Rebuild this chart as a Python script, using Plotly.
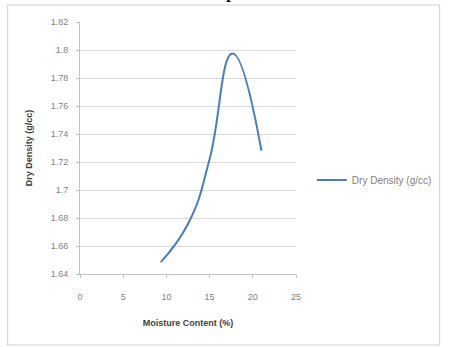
import plotly.graph_objects as go

moisture = [9.35, 12.6, 15.0, 17.65, 21.0]
dry_density = [1.6485, 1.677, 1.722, 1.7975, 1.728]
series_name = "Dry Density (g/cc)"
x_ticks = [0, 5, 10, 15, 20, 25]
y_ticks = [1.64, 1.66, 1.68, 1.70, 1.72, 1.74, 1.76, 1.78, 1.80, 1.82]
y_tick_text = ["1.64", "1.66", "1.68", "1.7", "1.72", "1.74", "1.76", "1.78", "1.8", "1.82"]

fig = go.Figure()
fig.add_trace(go.Scatter(
    x=moisture, y=dry_density, mode="lines", name=series_name,
    line=dict(color="#4a7ebb", width=2, shape="spline", smoothing=1.3),
))

L, R, T, B = 80, 151, 22, 73
W, H = 449, 347
pw, ph = W - L - R, H - T - B

def px_x(p):
    return (p - L) / pw

def px_y(p):
    return (H - B - p) / ph

tick_font = dict(family="Liberation Sans, Arial", size=9, color="#7f7f7f")
title_font = dict(family="Liberation Sans, Arial", size=9, color="#404040")
fig.update_layout(
    width=W, height=H,
    margin=dict(l=L, r=R, t=T, b=B),
    paper_bgcolor="white", plot_bgcolor="white",
    showlegend=True,
    legend=dict(x=px_x(314), y=px_y(180), xanchor="left", yanchor="middle",
                font=dict(family="Liberation Sans, Arial", size=10, color="#7f7f7f"),
                bgcolor="rgba(0,0,0,0)", itemwidth=30),
    xaxis=dict(range=[0, 25], tickvals=x_ticks, showgrid=False, zeroline=False,
               showline=True, linecolor="#bfbfbf", linewidth=1,
               ticks="outside", ticklen=3, tickcolor="#bfbfbf",
               ticklabelstandoff=11,
               tickfont=tick_font,
               title=dict(text="<b>Moisture Content (%)</b>", standoff=18, font=title_font)),
    yaxis=dict(range=[1.64, 1.82], tickvals=y_ticks, ticktext=y_tick_text,
               showgrid=True, gridcolor="#d9d9d9", gridwidth=1, zeroline=False,
               showline=True, linecolor="#bfbfbf", linewidth=1,
               ticks="outside", ticklen=3, tickcolor="#bfbfbf",
               ticklabelstandoff=6,
               tickfont=tick_font,
               title=dict(text="<b>Dry Density (g/cc)</b>", standoff=16, font=title_font)),
    shapes=[dict(type="rect", xref="paper", yref="paper",
                 x0=px_x(7), x1=px_x(443), y0=px_y(345), y1=px_y(5),
                 line=dict(color="#d0d0d0", width=1), fillcolor="rgba(0,0,0,0)", layer="below")],
    annotations=[dict(text="<b>Sample</b>", xref="paper", yref="paper",
                      x=px_x(223), y=px_y(4), xanchor="center", yanchor="bottom",
                      showarrow=False,
                      font=dict(family="Liberation Serif, Times New Roman", size=16, color="black"))],
)

fig.write_html("out.html")
